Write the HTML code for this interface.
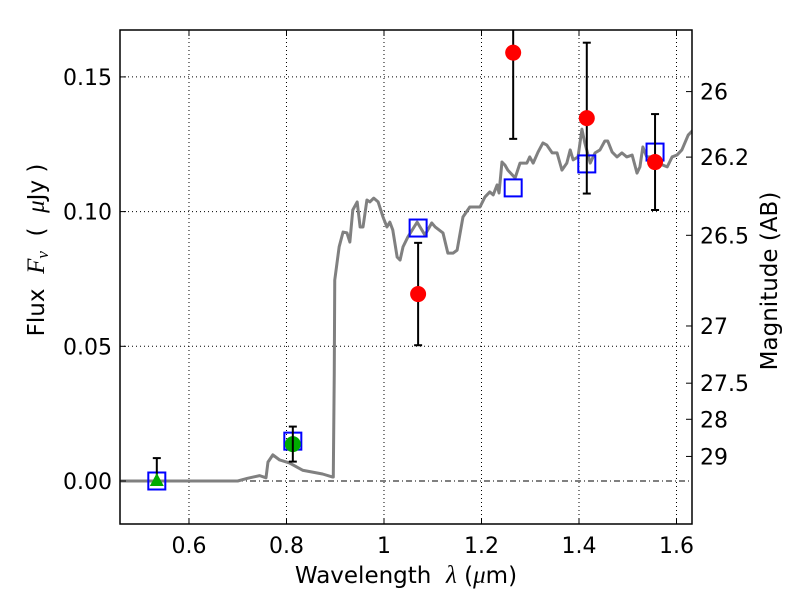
<!DOCTYPE html>
<html><head><meta charset="utf-8"><style>
body{margin:0;background:#fff;}
svg text{font-family:"DejaVu Sans","Liberation Sans",sans-serif;fill:#000;}
</style></head><body>
<svg id="chart" width="800" height="600" xmlns="http://www.w3.org/2000/svg">
<rect width="800" height="600" fill="#fff"/>
<g id="grid"></g>
<g id="marks"></g>
<g id="axes"></g>
<text x="406" y="583" font-size="23" text-anchor="middle" xml:space="preserve">Wavelength  <tspan font-style="italic" font-family="Liberation Serif, serif" font-size="25">λ</tspan> (<tspan font-style="italic" font-family="Liberation Serif, serif" font-size="25">μ</tspan>m)</text>
<text transform="translate(44,250) rotate(-90)" font-size="23" text-anchor="middle" xml:space="preserve">Flux  <tspan font-style="italic" font-family="Liberation Serif, serif" font-size="25">F<tspan font-size="17" dy="4">ν</tspan></tspan><tspan dy="-4">  (  </tspan><tspan font-style="italic" font-family="Liberation Serif, serif" font-size="25">μ</tspan>Jy )</text>
<text transform="translate(777,281) rotate(-90)" font-size="23" text-anchor="middle">Magnitude (AB)</text>
</svg>
<script>
const specLam=[0.46,0.70,0.72,0.745,0.758,0.762,0.772,0.786,0.806,0.833,0.874,0.894,0.896,0.898,0.899,0.908,0.916,0.924,0.930,0.936,0.945,0.951,0.957,0.965,0.971,0.979,0.988,0.998,1.006,1.012,1.018,1.027,1.033,1.039,1.049,1.068,1.084,1.098,1.105,1.121,1.131,1.142,1.150,1.162,1.176,1.197,1.207,1.217,1.224,1.232,1.236,1.242,1.248,1.254,1.269,1.279,1.293,1.299,1.306,1.316,1.326,1.334,1.345,1.355,1.365,1.375,1.382,1.388,1.398,1.406,1.412,1.423,1.433,1.443,1.453,1.459,1.468,1.478,1.488,1.498,1.509,1.519,1.525,1.531,1.539,1.552,1.562,1.581,1.591,1.601,1.611,1.624,1.634];
const specFlux=[0,0,0.001,0.002,0.0012,0.007,0.0097,0.0078,0.0067,0.004,0.0026,0.0015,0.0015,0.04,0.0746,0.0869,0.0924,0.0921,0.0887,0.1006,0.1036,0.0943,0.0943,0.1043,0.1036,0.1050,0.1036,0.0980,0.0943,0.0961,0.0932,0.0831,0.0820,0.0869,0.0906,0.0961,0.0913,0.0958,0.0943,0.0921,0.0846,0.0846,0.0857,0.0980,0.1017,0.1017,0.1054,0.1073,0.1062,0.1099,0.1069,0.1184,0.1173,0.1154,0.1125,0.1180,0.1180,0.1203,0.1180,0.1221,0.1255,0.1247,0.1218,0.1218,0.1154,0.1180,0.1229,0.1192,0.1203,0.1306,0.1255,0.1180,0.1218,0.1229,0.1262,0.1262,0.1221,0.1203,0.1218,0.1203,0.1210,0.1143,0.1166,0.1240,0.1203,0.1203,0.1180,0.1166,0.1203,0.1210,0.1229,0.1284,0.1303];
const obsLam=[1.07,1.265,1.416,1.556];
const obsFlux=[0.0694,0.159,0.1347,0.1184];
const obsErr=[0.019,0.032,0.028,0.0178];
const grnLam=[0.813];
const grnFlux=[0.0137];
const grnErr=[0.0065];
const triLam=[0.534];
const triFlux=[0];
const triErr=[0.0085];
const modLam=[0.534,0.813,1.07,1.265,1.416,1.556];
const modFlux=[0,0.0148,0.0939,0.1088,0.1177,0.1221];
const xTicks=[0.6,0.8,1.0,1.2,1.4,1.6];
const xTickLabels=["0.6","0.8","1","1.2","1.4","1.6"];
const yTicks=[0,0.05,0.10,0.15];
const yTickLabels=["0.00","0.05","0.10","0.15"];
const magTicks=[26,26.2,26.5,27,27.5,28,29];
const magTickLabels=["26","26.2","26.5","27","27.5","28","29"];

const L=120,R=692,T=30,B=524;
const xmin=0.4585,xmax=1.6318,ymin=-0.01596,ymax=0.16741;
const X=v=>L+(v-xmin)/(xmax-xmin)*(R-L);
const Y=v=>B-(v-ymin)/(ymax-ymin)*(B-T);
const magY=m=>Y(Math.pow(10,(23.9-m)/2.5));
const NS="http://www.w3.org/2000/svg";
function mk(parent,tag,attrs){const e=document.createElementNS(NS,tag);for(const k in attrs)e.setAttribute(k,attrs[k]);parent.appendChild(e);return e;}
const grid=document.getElementById('grid'),marks=document.getElementById('marks'),axes=document.getElementById('axes');

xTicks.forEach((t,i)=>{
 const g=mk(grid,'line',{x1:X(t),x2:X(t),y1:T,y2:B,stroke:'#000','stroke-width':1,'stroke-dasharray':'1,3'});
 
 
 mk(axes,'line',{x1:X(t),x2:X(t),y1:B,y2:B-6,stroke:'#000'});
 mk(axes,'line',{x1:X(t),x2:X(t),y1:T,y2:T+6,stroke:'#000'});
 const tx=mk(axes,'text',{x:X(t),y:B+29,'font-size':22,'text-anchor':'middle'});
 tx.textContent=xTickLabels[i];
 
 
});
yTicks.forEach((t,i)=>{
 if(t!==0){const g=mk(grid,'line',{x1:L,x2:R,y1:Y(t),y2:Y(t),stroke:'#000','stroke-width':1,'stroke-dasharray':'1,3'});
 
 }
 mk(axes,'line',{x1:L,x2:L+6,y1:Y(t),y2:Y(t),stroke:'#000'});
 const tx=mk(axes,'text',{x:L-8,y:Y(t)+8,'font-size':22,'text-anchor':'end'});
 tx.textContent=yTickLabels[i];
 
 
});
magTicks.forEach((m,i)=>{
 mk(axes,'line',{x1:R,x2:R-6,y1:magY(m),y2:magY(m),stroke:'#000'});
 const tx=mk(axes,'text',{x:R+8,y:magY(m)+8,'font-size':22,'text-anchor':'start'});
 tx.textContent=magTickLabels[i];
 
 
});
const zl=mk(grid,'line',{x1:L,x2:R,y1:Y(0),y2:Y(0),stroke:'#000','stroke-width':1,'stroke-dasharray':'6,3,1,3'});



const sp=mk(marks,'polyline',{points:specLam.map((l,i)=>X(l)+','+Y(specFlux[i])).join(' '),fill:'none',stroke:'#808080','stroke-width':3,'stroke-linejoin':'round'});



function errbar(l,f,e,lowerCap){
 const x=X(l),y1=Y(f+e),y2=lowerCap?Y(f-e):Y(f);
 const g=mk(marks,'g',{});
 
 
 mk(g,'line',{x1:x,x2:x,y1:y1,y2:y2,stroke:'#000','stroke-width':2});
 mk(g,'line',{x1:x-4,x2:x+4,y1:y1,y2:y1,stroke:'#000','stroke-width':2});
 if(lowerCap)mk(g,'line',{x1:x-4,x2:x+4,y1:y2,y2:y2,stroke:'#000','stroke-width':2});
}
modLam.forEach((l,i)=>{
 const r=mk(marks,'rect',{x:X(l)-8.5,y:Y(modFlux[i])-8.5,width:17,height:17,fill:'none',stroke:'#0000ff','stroke-width':2});
 
 
});
triLam.forEach((l,i)=>{
 errbar(l,triFlux[i],triErr[i],false);
 const x=X(l),y=Y(triFlux[i]);
 const p=mk(marks,'polygon',{points:`${x},${y-8} ${x-7},${y+5} ${x+7},${y+5}`,fill:'#00aa00'});
 
 
});
grnLam.forEach((l,i)=>{
 const c=mk(marks,'circle',{cx:X(l),cy:Y(grnFlux[i]),r:8,fill:'#00aa00'});
 
 
 errbar(l,grnFlux[i],grnErr[i],true);
});
obsLam.forEach((l,i)=>{
 errbar(l,obsFlux[i],obsErr[i],true);
 const c=mk(marks,'circle',{cx:X(l),cy:Y(obsFlux[i]),r:8,fill:'#ff0000'});
 
 
});
const clip=mk(document.getElementById('chart'),'defs',{});
const cp=mk(clip,'clipPath',{id:'pc'});mk(cp,'rect',{x:L,y:T,width:R-L,height:B-T});
marks.setAttribute('clip-path','url(#pc)');
const fr=mk(axes,'rect',{x:L,y:T,width:R-L,height:B-T,fill:'none',stroke:'#000','stroke-width':1.5});


</script>
</body></html>
